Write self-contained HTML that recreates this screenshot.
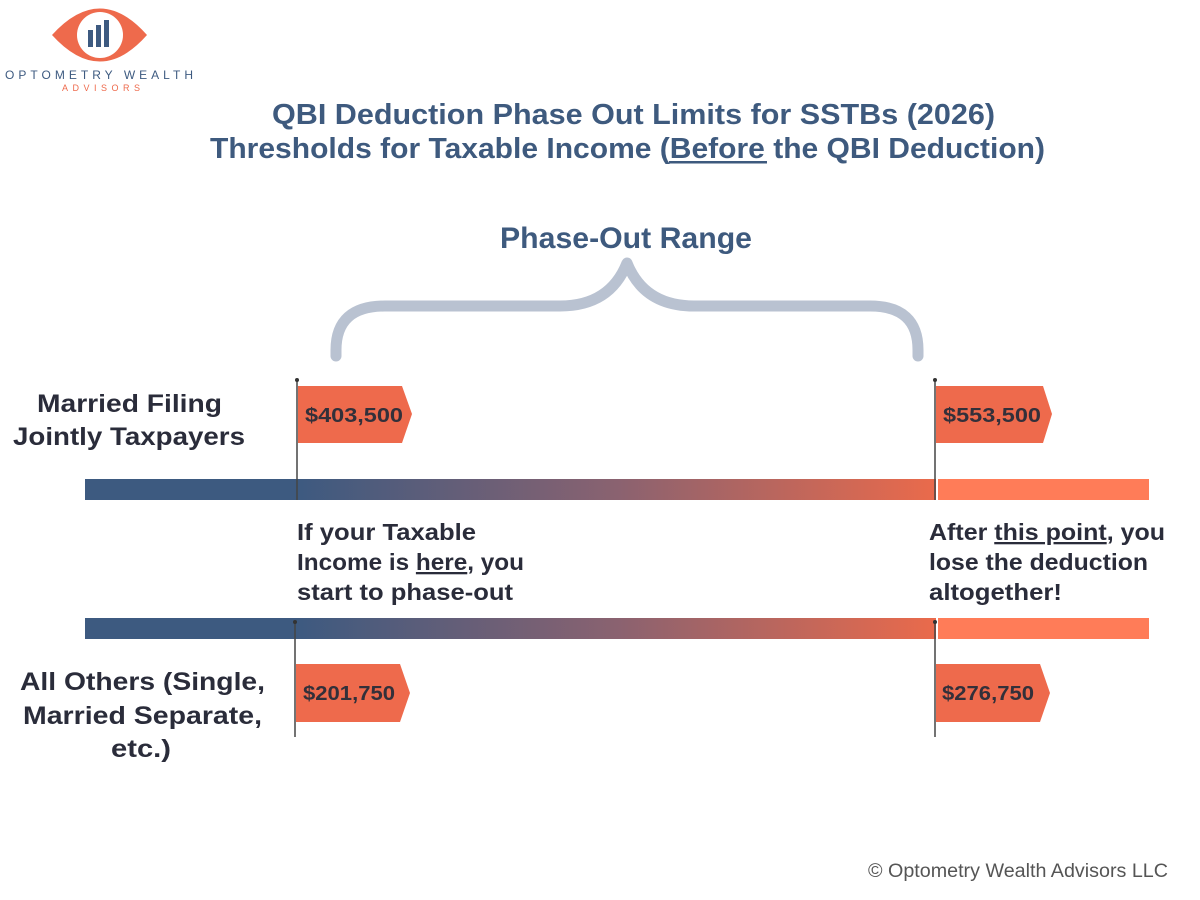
<!DOCTYPE html>
<html><head><meta charset="utf-8"><style>
html,body{margin:0;padding:0;background:#fff;}
svg{display:block;}
.t{font-family:"Liberation Sans Narrow","Liberation Sans",sans-serif;font-weight:bold;fill:#3e5a7e;}
.l{font-family:"Liberation Sans",sans-serif;font-weight:bold;fill:#2a2c3a;}
.f{font-family:"Liberation Sans",sans-serif;font-weight:bold;fill:#33303a;font-size:20px;}
</style></head><body>
<svg width="1200" height="900" viewBox="0 0 1200 900" xmlns="http://www.w3.org/2000/svg">
<defs>
<linearGradient id="g" x1="0" x2="1" y1="0" y2="0">
<stop offset="0" stop-color="#3d5a80"/><stop offset="0.5" stop-color="#8a6270"/><stop offset="1" stop-color="#ea6a4b"/>
</linearGradient>
</defs>
<!-- logo -->
<path d="M52,35 Q100,-18 147,35 Q100,88 52,35 Z" fill="#ee6a4c"/>
<circle cx="100" cy="35" r="23" fill="#fff"/>
<rect x="88" y="30" width="5" height="17" fill="#3d5a80"/>
<rect x="96" y="25" width="5" height="22" fill="#3d5a80"/>
<rect x="104" y="20" width="5" height="27" fill="#3d5a80"/>
<text x="5" y="79" font-family="Liberation Sans,sans-serif" font-size="12" fill="#3d5a80" textLength="188" lengthAdjust="spacing">OPTOMETRY WEALTH</text>
<text x="62" y="91" font-family="Liberation Sans,sans-serif" font-size="9" fill="#ee6a4c" textLength="78" lengthAdjust="spacing">ADVISORS</text>
<!-- title -->
<text class="t" x="272" y="124" font-size="29" textLength="723" lengthAdjust="spacingAndGlyphs">QBI Deduction Phase Out Limits for SSTBs (2026)</text>
<text class="t" x="210" y="158" font-size="29" textLength="835" lengthAdjust="spacingAndGlyphs">Thresholds for Taxable Income (Before the QBI Deduction)</text>
<rect x="669" y="161" width="98" height="2.5" fill="#3e5a7e"/>
<text class="t" x="500" y="248" font-size="30" textLength="252" lengthAdjust="spacingAndGlyphs">Phase-Out Range</text>
<!-- brace -->
<path d="M336,356 L336,350 Q336,306 385,306 L560,306 Q610,306 627,263 Q644,306 694,306 L870,306 Q918,306 918,350 L918,356" fill="none" stroke="#b9c2d1" stroke-width="11" stroke-linecap="round" stroke-linejoin="round"/>
<!-- labels -->
<text class="l" x="37" y="412" font-size="25" textLength="185" lengthAdjust="spacingAndGlyphs">Married Filing</text>
<text class="l" x="13" y="445" font-size="25" textLength="232" lengthAdjust="spacingAndGlyphs">Jointly Taxpayers</text>
<text class="l" x="20" y="690" font-size="25" textLength="245" lengthAdjust="spacingAndGlyphs">All Others (Single,</text>
<text class="l" x="23" y="724" font-size="25" textLength="239" lengthAdjust="spacingAndGlyphs">Married Separate,</text>
<text class="l" x="111" y="757" font-size="25" textLength="60" lengthAdjust="spacingAndGlyphs">etc.)</text>
<!-- bars -->
<rect x="85" y="479" width="212" height="21" fill="#3d5a80"/>
<rect x="297" y="479" width="639" height="21" fill="url(#g)"/>
<rect x="938" y="479" width="211" height="21" fill="#ff7c58"/>
<rect x="85" y="618" width="212" height="21" fill="#3d5a80"/>
<rect x="297" y="618" width="639" height="21" fill="url(#g)"/>
<rect x="938" y="618" width="211" height="21" fill="#ff7c58"/>
<!-- poles -->
<line x1="297" y1="380" x2="297" y2="500" stroke="#444" stroke-width="1.5"/><circle cx="297" cy="380" r="2" fill="#333"/>
<line x1="935" y1="380" x2="935" y2="500" stroke="#444" stroke-width="1.5"/><circle cx="935" cy="380" r="2" fill="#333"/>
<line x1="295" y1="622" x2="295" y2="737" stroke="#444" stroke-width="1.5"/><circle cx="295" cy="622" r="2" fill="#333"/>
<line x1="935" y1="622" x2="935" y2="737" stroke="#444" stroke-width="1.5"/><circle cx="935" cy="622" r="2" fill="#333"/>
<!-- flags -->
<path d="M298,386 L402,386 L412,414 L402,443 L298,443 Z" fill="#ee6a4c"/>
<text class="f" x="305" y="422" textLength="98" lengthAdjust="spacingAndGlyphs">$403,500</text>
<path d="M936,386 L1043,386 L1052,414 L1043,443 L936,443 Z" fill="#ee6a4c"/>
<text class="f" x="943" y="422" textLength="98" lengthAdjust="spacingAndGlyphs">$553,500</text>
<path d="M296,664 L400,664 L410,693 L400,722 L296,722 Z" fill="#ee6a4c"/>
<text class="f" x="303" y="700" textLength="92" lengthAdjust="spacingAndGlyphs">$201,750</text>
<path d="M936,664 L1040,664 L1050,693 L1040,722 L936,722 Z" fill="#ee6a4c"/>
<text class="f" x="942" y="700" textLength="92" lengthAdjust="spacingAndGlyphs">$276,750</text>
<!-- middle text -->
<text class="l" x="297" y="540" font-size="23" textLength="179" lengthAdjust="spacingAndGlyphs">If your Taxable</text>
<text class="l" x="297" y="570" font-size="23" textLength="227" lengthAdjust="spacingAndGlyphs">Income is <tspan text-decoration="underline">here</tspan>, you</text>
<text class="l" x="297" y="600" font-size="23" textLength="216" lengthAdjust="spacingAndGlyphs">start to phase-out</text>
<text class="l" x="929" y="540" font-size="23" textLength="236" lengthAdjust="spacingAndGlyphs">After <tspan text-decoration="underline">this point</tspan>, you</text>
<text class="l" x="929" y="570" font-size="23" textLength="219" lengthAdjust="spacingAndGlyphs">lose the deduction</text>
<text class="l" x="929" y="600" font-size="23" textLength="133" lengthAdjust="spacingAndGlyphs">altogether!</text>
<!-- footer -->
<text x="868" y="877" font-family="Liberation Sans,sans-serif" font-size="19" fill="#555" textLength="300" lengthAdjust="spacingAndGlyphs">© Optometry Wealth Advisors LLC</text>
</svg>
</body></html>
